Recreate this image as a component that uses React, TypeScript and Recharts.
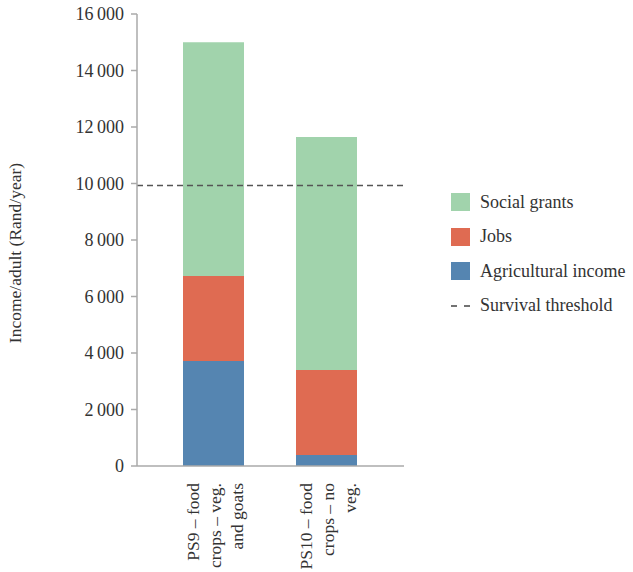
import { Bar, BarChart, ReferenceLine, XAxis, YAxis } from 'recharts';

const categories = [
  ['PS9 – food', 'crops – veg.', 'and goats'],
  ['PS10 – food', 'crops – no', 'veg.'],
];
const agricultural = [3720, 390];
const jobs = [3010, 3010];
const socialGrants = [8270, 8250];
const survivalThreshold = 9930;
const yTicks = [0, 2000, 4000, 6000, 8000, 10000, 12000, 14000, 16000];

const COLORS = { social: '#a1d3ac', jobs: '#df6b52', agri: '#5585b1' };
const FONT = '"Liberation Serif", "DejaVu Serif", serif';
const TEXT = '#333';

const data = categories.map((lines, i) => ({
  name: i,
  agri: agricultural[i],
  jobs: jobs[i],
  social: socialGrants[i],
}));

// 16000 -> "16 000"
const fmt = (v: number) => String(v).replace(/\B(?=(\d{3})+(?!\d))/g, '\u2009');

function RotatedTick({ x, y, payload }: any) {
  const lines = categories[payload.value] ?? [];
  const gap = 22;
  return (
    <g transform={`translate(${x},${y})`}>
      <text
        transform="rotate(-90)"
        textAnchor="end"
        fontFamily={FONT}
        fontSize={17.5}
        fill={TEXT}
      >
        {lines.map((l, i) => (
          <tspan key={i} x={-9} y={(i - (lines.length - 1) / 2) * gap + 7}>
            {l}
          </tspan>
        ))}
      </text>
    </g>
  );
}

function ValueTick({ x, y, payload }: any) {
  return (
    <text x={x - 5} y={y} dy={6} textAnchor="end" fontFamily={FONT} fontSize={18} fill={TEXT}>
      {fmt(payload.value)}
    </text>
  );
}

function YLabel({ viewBox }: any) {
  const cy = viewBox.y + viewBox.height / 2 + 13;
  return (
    <text
      x={15}
      y={cy}
      transform={`rotate(-90, 15, ${cy})`}
      textAnchor="middle"
      dominantBaseline="central"
      fontFamily={FONT}
      fontSize={17.5}
      fill={TEXT}
    >
      Income/adult (Rand/year)
    </text>
  );
}

const legendItems = [
  { label: 'Social grants', color: COLORS.social },
  { label: 'Jobs', color: COLORS.jobs },
  { label: 'Agricultural income', color: COLORS.agri },
  { label: 'Survival threshold', dashed: true },
];

export default function App() {
  return (
    <div style={{ position: 'absolute', left: 0, top: 0, width: 633, height: 572, background: '#fff' }}>
      <BarChart
        width={633}
        height={572}
        data={data}
        margin={{ top: 14, right: 229, left: 0, bottom: 0 }}
      >
        <ReferenceLine
          y={survivalThreshold}
          stroke="#555"
          strokeWidth={1.6}
          strokeDasharray="6 4"
        />
        <XAxis
          dataKey="name"
          height={106}
          tickLine={false}
          stroke="#aaa"
          strokeWidth={1.5}
          padding={{ left: 20, right: 21 }}
          tick={<RotatedTick />}
          interval={0}
        />
        <YAxis
          width={137}
          domain={[0, 16000]}
          ticks={yTicks}
          stroke="#aaa"
          strokeWidth={1.5}
          tickSize={6}
          tick={<ValueTick />}
          label={<YLabel />}
        />
        <Bar dataKey="agri" stackId="a" fill={COLORS.agri} barSize={61} isAnimationActive={false} />
        <Bar dataKey="jobs" stackId="a" fill={COLORS.jobs} barSize={61} isAnimationActive={false} />
        <Bar dataKey="social" stackId="a" fill={COLORS.social} barSize={61} isAnimationActive={false} />
      </BarChart>

      {/* legend */}
      <div style={{ position: 'absolute', left: 451, top: 185, fontFamily: FONT, fontSize: 18, color: TEXT }}>
        {legendItems.map((it) => (
          <div key={it.label} style={{ display: 'flex', alignItems: 'center', height: 34.5 }}>
            {it.dashed ? (
              <svg width={19} height={18} style={{ marginRight: 10 }}>
                <line x1={0} y1={9} x2={19} y2={9} stroke="#444" strokeWidth={1.5} strokeDasharray="6 7" />
              </svg>
            ) : (
              <div style={{ width: 19, height: 18, background: it.color, marginRight: 10 }} />
            )}
            <span>{it.label}</span>
          </div>
        ))}
      </div>
    </div>
  );
}
